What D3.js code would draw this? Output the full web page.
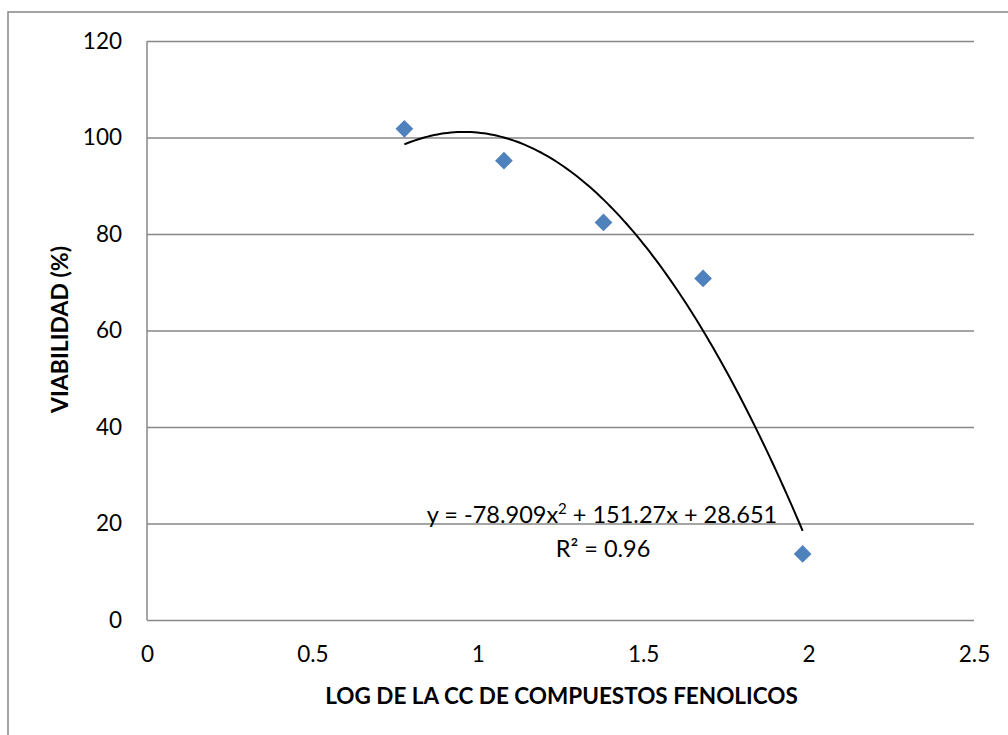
<!DOCTYPE html>
<html>
<head>
<meta charset="utf-8">
<script src="https://cdn.jsdelivr.net/npm/d3@7"></script>
<style>
  body { margin: 0; background: #fff; }
  svg { display: block; }
  svg text { font-family: Lato, "Open Sans", sans-serif; fill: #000; }
</style>
</head>
<body>
<svg width="1008" height="735"></svg>
<script>
// log10 of concentration vs viability
const logConc = [0.778, 1.079, 1.380, 1.681, 1.982];
const viability = [101.8, 95.2, 82.4, 70.8, 13.7];
const xTicks = [0, 0.5, 1, 1.5, 2, 2.5];
const yTicks = [0, 20, 40, 60, 80, 100, 120];
const trendCoef = [-78.909, 151.27, 28.651]; // a x^2 + b x + c
const eqText = 'y = -78.909x';
const r2Text = 'R² = 0.96';

const svg = d3.select('svg');
const width = +svg.attr('width');
const height = +svg.attr('height');

// outer chart border (runs off the right and bottom edges)
svg.append('path')
  .attr('d', `M8,${height}V12H${width}`)
  .attr('fill', 'none')
  .attr('stroke', '#878787')
  .attr('stroke-width', 1.5);

const margin = {top: 41, right: 34, bottom: 115, left: 147};
const innerWidth = width - margin.left - margin.right;
const innerHeight = height - margin.top - margin.bottom;

const xScale = d3.scaleLinear().domain([0, 2.5]).range([0, innerWidth]);
const yScale = d3.scaleLinear().domain([0, 120]).range([innerHeight, 0]);

const g = svg.append('g')
  .attr('transform', `translate(${margin.left},${margin.top})`);

// y gridlines + labels
const yAxis = d3.axisLeft(yScale).tickValues(yTicks).tickSize(-innerWidth).tickPadding(25);
const yAxisG = g.append('g').call(yAxis);
yAxisG.select('.domain').remove();
yAxisG.selectAll('line').attr('stroke', '#878787').attr('stroke-width', 1.5);
yAxisG.selectAll('text').style('font-size', '22.5px');

// x axis labels
const xAxis = d3.axisBottom(xScale).tickValues(xTicks).tickSize(0).tickPadding(26)
  .tickFormat(d3.format('~g'));
const xAxisG = g.append('g').attr('transform', `translate(0,${innerHeight})`).call(xAxis);
xAxisG.select('.domain').remove();
xAxisG.selectAll('text').style('font-size', '22.5px');

// left axis line
g.append('line')
  .attr('x1', 0).attr('x2', 0).attr('y1', 0).attr('y2', innerHeight)
  .attr('stroke', '#878787').attr('stroke-width', 1.5);

// axis titles
g.append('text')
  .attr('x', innerWidth / 2 + 1)
  .attr('y', innerHeight + 84)
  .attr('text-anchor', 'middle')
  .style('font-size', '22.5px')
  .style('font-weight', 'bold')
  .text('LOG DE LA CC DE COMPUESTOS FENOLICOS');

g.append('text')
  .attr('transform', `translate(-79,${innerHeight / 2 - 1}) rotate(-90)`)
  .attr('text-anchor', 'middle')
  .style('font-size', '23px')
  .style('font-weight', 'bold')
  .text('VIABILIDAD (%)');

// polynomial trendline
const [a, b, c] = trendCoef;
const xs = d3.range(0, 121).map(i => logConc[0] + (logConc[logConc.length - 1] - logConc[0]) * i / 120);
const line = d3.line()
  .x(d => xScale(d))
  .y(d => yScale(a * d * d + b * d + c));
g.append('path')
  .datum(xs)
  .attr('d', line)
  .attr('fill', 'none')
  .attr('stroke', '#000')
  .attr('stroke-width', 2);

// markers
g.selectAll('.pt').data(logConc)
  .enter().append('path')
  .attr('class', 'pt')
  .attr('d', d3.symbol().type(d3.symbolDiamond2).size(200))
  .attr('transform', (d, i) => `translate(${xScale(d)},${yScale(viability[i])})`)
  .attr('fill', '#4F81BD');

// equation label
const eq = g.append('text')
  .attr('x', 455)
  .attr('y', 482)
  .attr('text-anchor', 'middle')
  .style('font-size', '23.5px');
eq.append('tspan').text(eqText);
eq.append('tspan').attr('dy', -9).style('font-size', '15px').text('2');
eq.append('tspan').attr('dy', 9).text(' + 151.27x + 28.651');

g.append('text')
  .attr('x', 456)
  .attr('y', 516)
  .attr('text-anchor', 'middle')
  .style('font-size', '23.5px')
  .text(r2Text);
</script>
</body>
</html>
